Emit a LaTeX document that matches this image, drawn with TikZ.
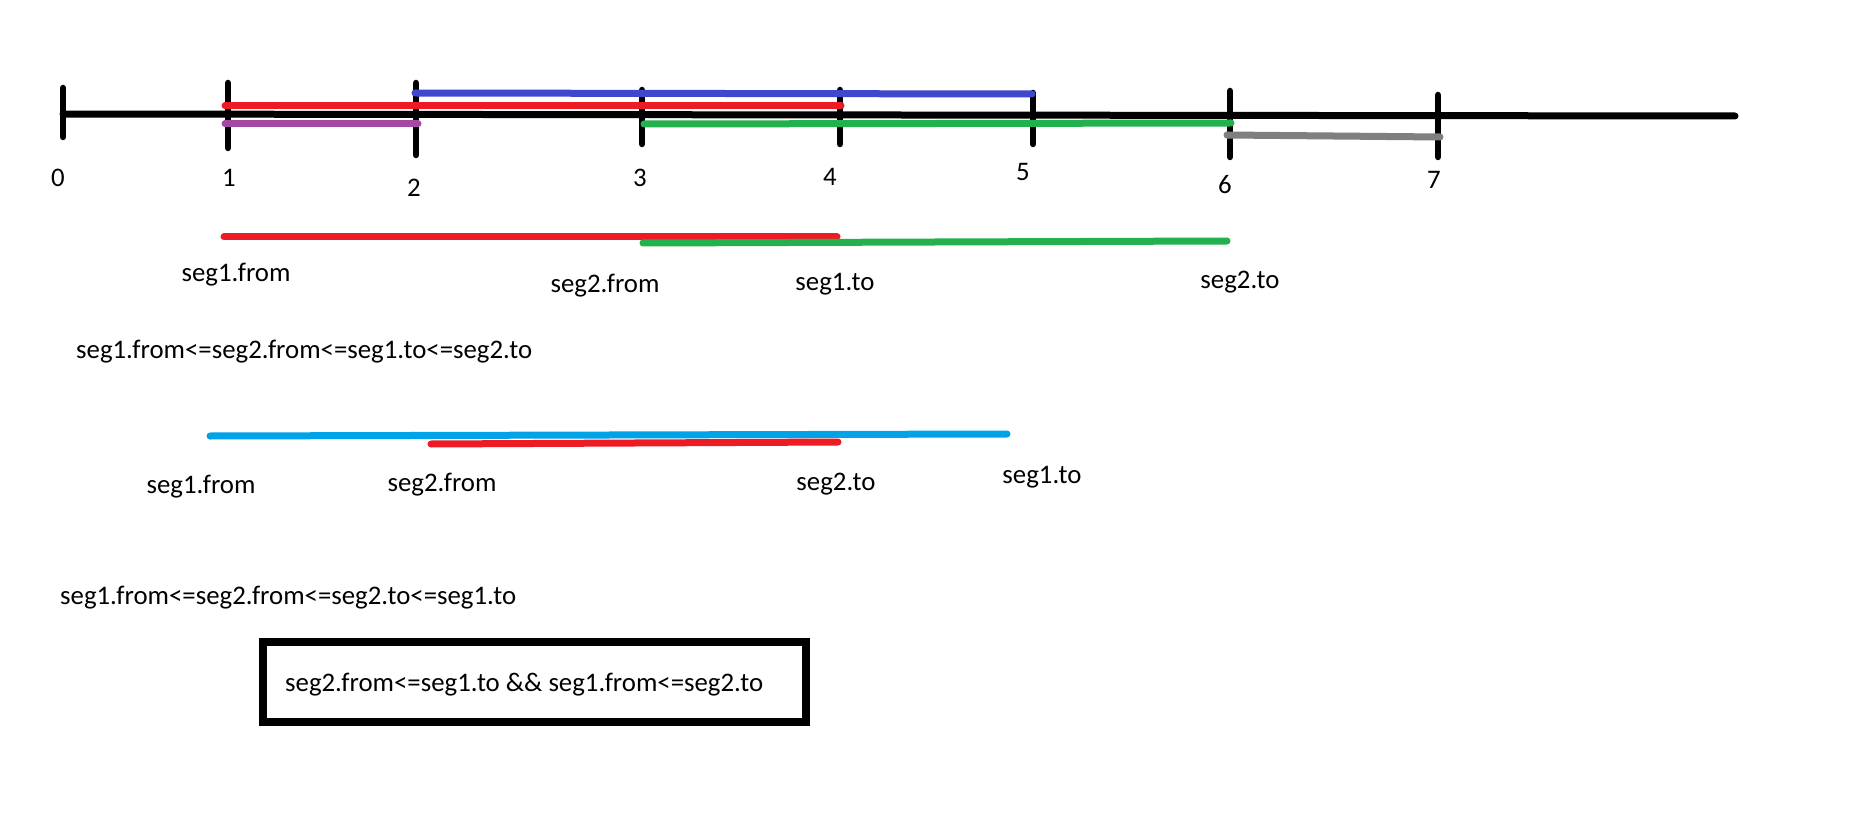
\documentclass[tikz,border=0pt]{standalone}
\usepackage{fontspec}
\setmainfont{Carlito}
\definecolor{pred}{HTML}{ED1C24}
\definecolor{pblue}{HTML}{3F48CC}
\definecolor{ppurple}{HTML}{A349A4}
\definecolor{pgreen}{HTML}{22B14C}
\definecolor{pgray}{HTML}{7F7F7F}
\definecolor{pcyan}{HTML}{00A2E8}
\tikzset{
  axis/.style={line width=7pt, line cap=round, black},
  tick/.style={line width=6.5pt, line cap=round, black},
  seg/.style={line width=7pt, line cap=round},
  lbl/.style={inner sep=0pt, font=\fontsize{26.8}{32}\selectfont},
  box/.style={draw, line width=8pt, inner sep=0pt}
}
\begin{document}
\begin{tikzpicture}[x=1pt, y=-1pt]
\useasboundingbox[fill=white] (0,0) rectangle (1852,826);
% main axis
\draw[axis] (63,114) -- (1735,116);
% ticks
\draw[tick] (63,88) -- (63,137);
\draw[tick] (228,83) -- (228,148);
\draw[tick] (416,83) -- (416,155);
\draw[tick] (642,90) -- (642,144);
\draw[tick] (840,90) -- (840,144);
\draw[tick] (1033,93) -- (1033,144);
\draw[tick] (1230,91) -- (1230,157);
\draw[tick] (1438,95) -- (1438,157);
% tick labels
\node[lbl] (n0) at (58,178) {0};
\node[lbl] (n1) at (229,178) {1};
\node[lbl] (n2) at (414,188) {2};
\node[lbl] (n3) at (640,178) {3};
\node[lbl] (n4) at (830,177) {4};
\node[lbl] (n5) at (1023,172) {5};
\node[lbl] (n6) at (1225,185) {6};
\node[lbl] (n7) at (1434,180) {7};
% coloured segments on axis
\draw[seg, pblue] (415,93) -- (1032,94);
\draw[seg, pred] (225,106) -- (841,106);
\draw[seg, ppurple] (225,124) -- (418,124);
\draw[seg, pgreen] (644,124) -- (1231,123);
\draw[seg, pgray] (1227,135) -- (1440,137);
% case 1
\draw[seg, pred] (224,237) -- (837,237);
\draw[seg, pgreen] (643,243) -- (1227,241);
\node[lbl] (a1) at (236,275) {seg1.from};
\node[lbl] (a2) at (605,286) {seg2.from};
\node[lbl] (a3) at (835,284) {seg1.to};
\node[lbl] (a4) at (1240,282) {seg2.to};
\node[lbl, anchor=west] (f1) at (76,352) {seg1.from<=seg2.from<=seg1.to<=seg2.to};
% case 2
\draw[seg, pcyan] (210,436) -- (1007,434);
\draw[seg, pred] (431,444) -- (838,442);
\node[lbl] (b1) at (201,487) {seg1.from};
\node[lbl] (b2) at (442,485) {seg2.from};
\node[lbl] (b3) at (836,484) {seg2.to};
\node[lbl] (b4) at (1042,477) {seg1.to};
\node[lbl, anchor=west] (f2) at (60,598) {seg1.from<=seg2.from<=seg2.to<=seg1.to};
% result box
\draw[line width=8pt] (263,642) rectangle (806,722);
\node[lbl, anchor=west] (res) at (285,685) {seg2.from<=seg1.to \&\& seg1.from<=seg2.to};
\end{tikzpicture}
\end{document}
